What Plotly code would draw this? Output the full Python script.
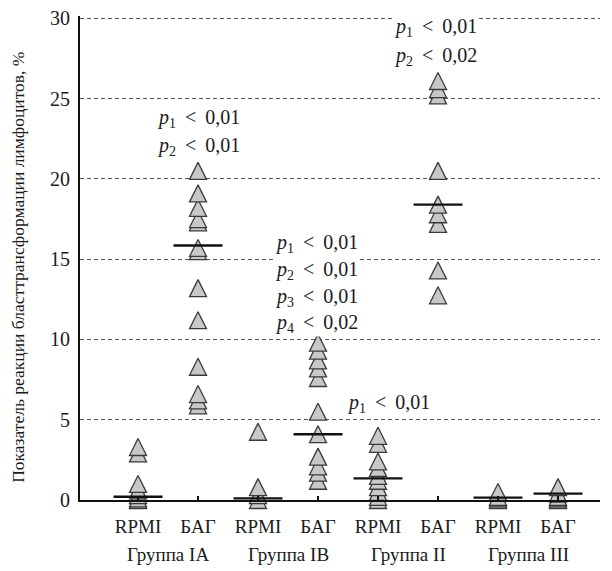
import plotly.graph_objects as go

# ---------------- data ----------------
groups = ["Группа IA", "Группа IB", "Группа II", "Группа III"]
tick_labels = ["RPMI", "БАГ", "RPMI", "БАГ", "RPMI", "БАГ", "RPMI", "БАГ"]
y_title = "Показатель реакции бласттрансформации лимфоцитов, %"

ia_rpmi = [0.0, 0.1, 0.3, 0.6, 1.0, 2.9, 3.3]
ia_bag = [5.9, 6.2, 6.6, 8.3, 11.2, 13.2, 15.5, 15.7, 17.3, 17.5, 18.2, 19.1, 20.5]
ib_rpmi = [0.0, 0.3, 0.8, 4.25]
ib_bag = [1.2, 1.7, 2.1, 2.7, 4.1, 5.5, 7.6, 8.2, 8.7, 9.3, 9.8]
ii_rpmi = [0.0, 0.2, 0.5, 0.8, 1.2, 1.5, 2.0, 2.4, 3.5, 4.0]
ii_bag = [12.75, 14.3, 17.2, 17.8, 18.4, 20.5, 25.2, 25.6, 26.1]
iii_rpmi = [0.0, 0.1, 0.2, 0.5]
iii_bag = [0.0, 0.1, 0.2, 0.4, 0.8]

series = [ia_rpmi, ia_bag, ib_rpmi, ib_bag, ii_rpmi, ii_bag, iii_rpmi, iii_bag]
medians = [0.2, 15.85, 0.1, 4.1, 1.35, 18.4, 0.15, 0.4]

Y_TOP = 30.15
# p-value labels: (column index, y value, subscript, value text)
p_labels = [
    (1, 23.75, "1", "0,01"), (1, 22.0, "2", "0,01"),
    (2.98, 15.95, "1", "0,01"), (2.98, 14.3, "2", "0,01"),
    (2.98, 12.6, "3", "0,01"), (2.98, 11.0, "4", "0,02"),
    (4.17, 6.0, "1", "0,01"),
    (4.95, 29.45, "1", "0,01"), (4.95, 27.6, "2", "0,02"),
]

FONT = "Liberation Serif"
TXT = "#1a1a1a"
MSIZE = 17

fig = go.Figure()

for i, vals in enumerate(series):
    fig.add_trace(go.Scatter(
        x=[i] * len(vals), y=vals, mode="markers", cliponaxis=False,
        marker=dict(symbol="arrow-down", angle=180, standoff=MSIZE / 2,
                    size=MSIZE, color="#c8c8c8",
                    line=dict(color="#3a3a3a", width=1.3)),
        showlegend=False, hoverinfo="y"))

fig.add_trace(go.Scatter(
    x=list(range(len(medians))), y=medians, mode="markers", cliponaxis=False,
    marker=dict(symbol="line-ew", size=35,
                line=dict(color="#111111", width=2.4)),
    showlegend=False, hoverinfo="y"))

annotations = []
for col, yv, sub, val in p_labels:
    annotations.append(dict(
        x=col, y=yv / Y_TOP, xref="x", yref="paper", showarrow=False,
        text=f"<i>p</i><sub>{sub}</sub>&#8201; &lt; &#8201;{val}",
        font=dict(family=FONT, size=20, color=TXT), bgcolor="white",
        borderpad=0, xanchor="center", yanchor="middle"))

for g, name in enumerate(groups):
    annotations.append(dict(
        x=2 * g + 0.5, y=-0.1135, xref="x", yref="paper", showarrow=False,
        text=name, font=dict(family=FONT, size=19, color=TXT),
        xanchor="center", yanchor="middle"))

annotations.append(dict(
    x=-0.118, y=0.481, xref="paper", yref="paper", showarrow=False,
    text=y_title, textangle=-90,
    font=dict(family=FONT, size=17.5, color=TXT),
    xanchor="center", yanchor="middle"))

# the page body adds an 8px offset, so the figure is 8px smaller
fig.update_layout(
    width=604, height=563,
    margin=dict(l=72, r=12, t=7.6, b=71, autoexpand=False),
    paper_bgcolor="white", plot_bgcolor="white",
    font=dict(family=FONT, color=TXT),
    annotations=annotations,
    xaxis=dict(
        range=[-0.967, 7.7], tickvals=list(range(8)), ticktext=tick_labels,
        automargin=False, ticklabelstandoff=8, ticklabeloverflow="allow",
        showgrid=False, zeroline=False, showline=True, linecolor="#111",
        linewidth=1.5, ticks="inside", ticklen=4, tickwidth=1.5,
        tickcolor="#111", tickfont=dict(family=FONT, size=19, color=TXT)),
    yaxis=dict(
        range=[0, Y_TOP], tickvals=[0, 5, 10, 15, 20, 25, 30],
        automargin=False, ticklabeloverflow="allow",
        showgrid=True, gridcolor="#555", griddash="4px,3px", gridwidth=1.3,
        zeroline=False, showline=True, linecolor="#111", linewidth=2,
        ticks="", ticklabelstandoff=4,
        tickfont=dict(family=FONT, size=20, color=TXT)),
)

fig.write_html("out.html")
